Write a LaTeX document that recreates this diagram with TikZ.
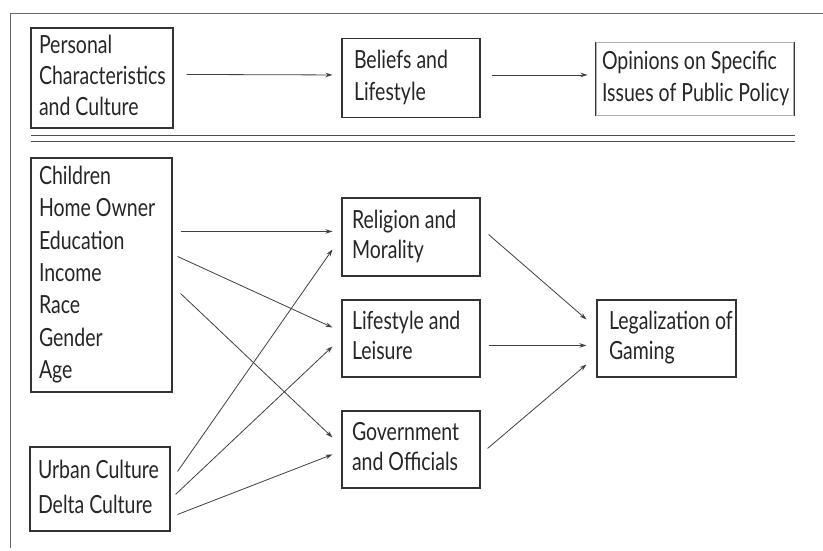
\documentclass[tikz,border=0pt]{standalone}
\usepackage{fontspec}
\setmainfont{Lato}[FakeStretch=0.78]
\usetikzlibrary{arrows.meta}
\newcommand{\boxlines}[1]{\spaceskip=0.2em\relax\begin{tabular}{@{}l@{}}\rule{0pt}{0.7\baselineskip+6pt}#1\end{tabular}}
\usepackage{calc}
\begin{document}
\begin{tikzpicture}[x=1pt,y=-1pt,
  box/.style={draw=black!80, line width=1.1pt, inner xsep=9pt, inner ysep=0pt, align=left, text=black!85, font=\fontsize{25}{31}\selectfont},
  arr/.style={draw=black!75, line width=0.8pt, -{Stealth[length=7pt,width=4.5pt]}},
  frame/.style={draw=black!60, line width=1pt}]
\useasboundingbox (0,0) rectangle (823,550);
\fill[white] (0,0) rectangle (823,550);
% outer frame
\draw[frame] (10,548) -- (10,13) -- (823,13);
% top row
\node[box, minimum width=142, minimum height=100, text width=126, inner xsep=8pt] (pers) at (102,78) {\boxlines{Personal\\Characteristics\\and Culture}};
\node[box, minimum width=138, minimum height=79, text width=114, inner xsep=12pt, font=\fontsize{25}{32}\selectfont] (beli) at (411,78) {\boxlines{Beliefs and\\Lifestyle}};
\node[box, draw=black!30, minimum width=198, minimum height=73, text width=186, inner xsep=6pt, font=\fontsize{25}{32}\selectfont] (opin) at (695,79) {\boxlines{Opinions on Specific\\Issues of Public Policy}};
\draw[black!80, line width=1.1pt] (opin.north west) -- (opin.south west) (opin.north east) -- (opin.south east);
\draw[arr] ([shift={(13,47)}]pers.north east) -- ([shift={(-9,37)}]beli.north west);
\draw[arr] ([shift={(11,37)}]beli.north east) -- ([shift={(-8,33)}]opin.north west);
% double rule
\draw[black!70, line width=1.3pt] (31,135.5) -- (795,135.5);
\draw[black!70, line width=1.3pt] (31,141.5) -- (795,141.5);
% bottom diagram
\node[box, minimum width=141, minimum height=234, text width=125, inner xsep=8pt, font=\fontsize{25}{32.3}\selectfont] (char) at (101.5,275) {\boxlines{Children\\Home Owner\\Education\\Income\\Race\\Gender\\Age}};
\node[box, minimum width=140, minimum height=84, text width=124, inner xsep=8pt, font=\fontsize{25}{35}\selectfont] (cult) at (100,489) {\boxlines{Urban Culture\\Delta Culture}};
\node[box, minimum width=138, minimum height=78, text width=118, inner xsep=10pt, font=\fontsize{25}{30}\selectfont] (reli) at (411,237) {\boxlines{Religion and\\Morality}};
\node[box, minimum width=138, minimum height=77, text width=118, inner xsep=10pt, font=\fontsize{25}{30}\selectfont] (life) at (411,338.5) {\boxlines{Lifestyle and\\Leisure}};
\node[box, minimum width=138, minimum height=77, text width=118, inner xsep=10pt, font=\fontsize{25}{30}\selectfont] (gove) at (411,449.5) {\boxlines{Government\\and Officials}};
\node[box, minimum width=139, minimum height=77, text width=115, inner xsep=12pt, font=\fontsize{25}{30}\selectfont] (lega) at (666.5,338.5) {\boxlines{Legalization of\\Gaming}};
% arrows
\draw[arr] ([shift={(8,74)}]char.north east) -- ([shift={(-9,34)}]reli.north west);
\draw[arr] ([shift={(5,99)}]char.north east) -- ([shift={(-9,28)}]life.north west);
\draw[arr] ([shift={(8,136)}]char.north east) -- ([shift={(-9,27)}]gove.north west);
\draw[arr] ([shift={(7,25)}]cult.north east) -- ([shift={(-9,52)}]reli.north west);
\draw[arr] ([shift={(5,48)}]cult.north east) -- ([shift={(-9,47)}]life.north west);
\draw[arr] ([shift={(7,68)}]cult.north east) -- ([shift={(-9,44)}]gove.north west);
\draw[arr] ([shift={(8,37)}]reli.north east) -- ([shift={(-10,20)}]lega.north west);
\draw[arr] ([shift={(8,46)}]life.north east) -- ([shift={(-10,46)}]lega.north west);
\draw[arr] ([shift={(7,38)}]gove.north east) -- ([shift={(-10,65)}]lega.north west);
\end{tikzpicture}
\end{document}
